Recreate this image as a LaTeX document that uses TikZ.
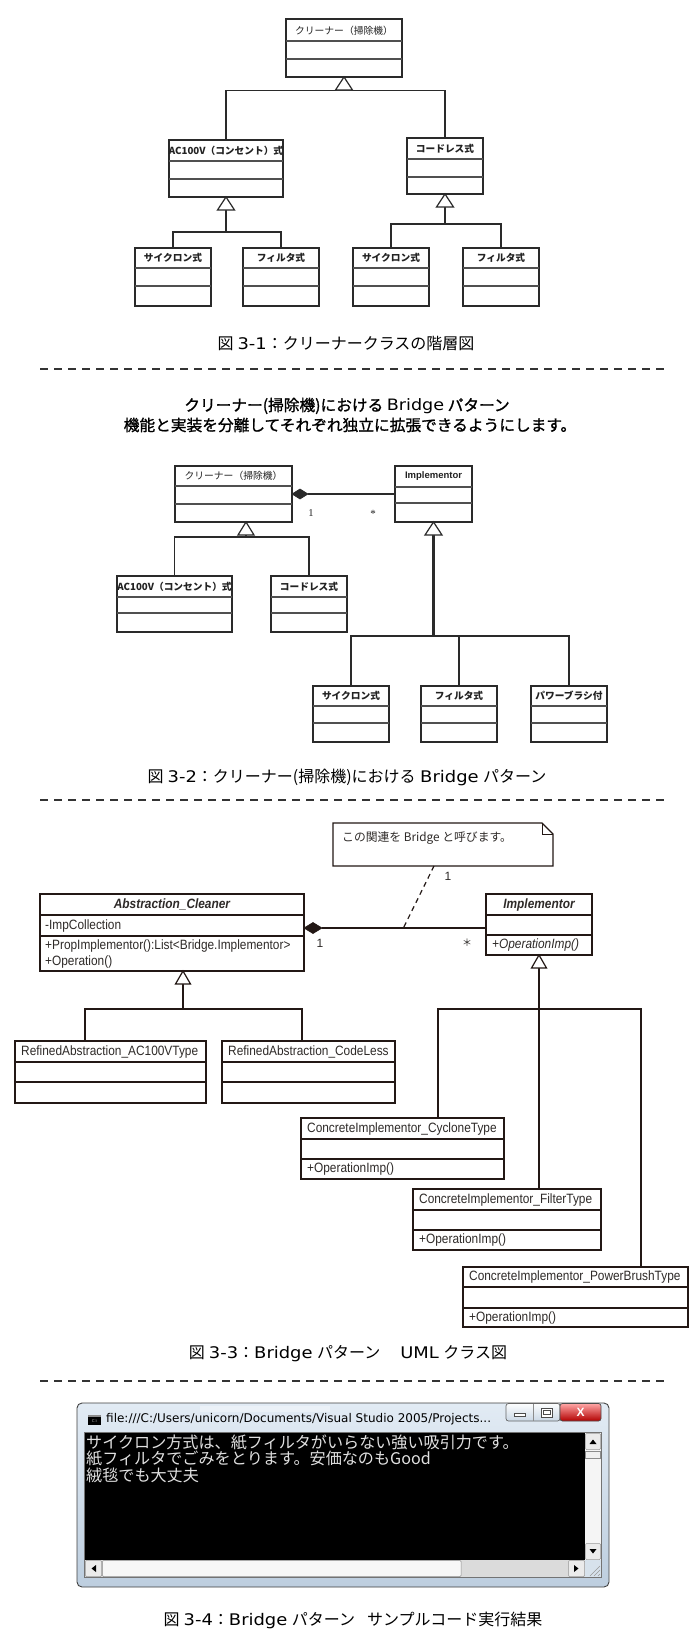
\documentclass[tikz,border=0pt]{standalone}
\usepackage{fontspec}
\setmainfont{Noto Sans CJK JP}
\newfontfamily\jpm[FakeBold=1.2]{Noto Sans CJK JP}
\newfontfamily\uml[FakeStretch=0.88]{Liberation Sans}
\newfontfamily\lsans{Liberation Sans}
\newfontfamily\lserif{Liberation Serif}
\newfontfamily\dvs{DejaVu Sans}
\newfontfamily\dvsw[FakeStretch=1.12]{DejaVu Sans}
\usetikzlibrary{calc}
\definecolor{linec}{HTML}{2A2A2A}
\definecolor{divc}{HTML}{505050}
\definecolor{umlc}{HTML}{231815}
\definecolor{umltxt}{HTML}{2E2A28}
\definecolor{txtc}{HTML}{222222}
\definecolor{sepc}{HTML}{333333}
\definecolor{frameA}{HTML}{E2EBF4}
\definecolor{frameB}{HTML}{BDCEDF}
\newcommand\fsz[1]{\fontsize{#1}{#1}\selectfont}
\newcommand\lat[1]{{\dvsw #1}}
\newcommand\klass[8]{%
  \node[#1, minimum width={#5-#3}, minimum height={#6-#4}] (#2) at (#3,#4) {};
  \draw[#1div] (#3,#7) -- (#5,#7) (#3,#8) -- (#5,#8);
}
\newcommand\gtri[3]{\draw[#1] (#2) -- ++(-#3,13) -- ++(2*#3,0) -- cycle;}
\begin{document}
\begin{tikzpicture}[x=1pt,y=-1pt,
  kb/.style={rectangle, draw=linec, line width=1.3pt, fill=white, inner sep=0pt, outer sep=0pt, anchor=north west},
  kbdiv/.style={draw=divc, line width=1.6pt},
  ub/.style={rectangle, draw=umlc, line width=1.3pt, fill=white, inner sep=0pt, outer sep=0pt, anchor=north west},
  ubdiv/.style={draw=umlc, line width=1.2pt},
  ln/.style={draw=linec, line width=1.3pt},
  uln/.style={draw=umlc, line width=1.3pt},
  gen/.style={draw=linec, line width=1.2pt, fill=white},
  ugen/.style={draw=umlc, line width=1.2pt, fill=white},
  jt/.style={inner sep=0pt, text=txtc, font=\fsz{9.8}},
  jb/.style={inner sep=0pt, text=txtc, font=\fsz{9.7}\bfseries},
  ut/.style={inner sep=0pt, text=umltxt, font=\uml\fsz{13.5}, anchor=west},
  figcap/.style={inner sep=0pt, text=black, font=\fsz{16}},
  sepl/.style={draw=sepc, line width=1.4pt, dash pattern=on 8pt off 6pt},
  multlab/.style={inner sep=0pt, text=umltxt, font=\lsans\fsz{12}},
  constext/.style={inner sep=0pt, text=white!88!black, font=\fsz{16.1}, anchor=west},
]
\useasboundingbox[fill=white] (0,0) rectangle (700,1641);

% ---------------- Figure 3-1 ----------------
\klass{kb}{A0}{286}{19}{402}{77}{41}{59}
\node[jt] (A0t) at (344,30.5) {クリーナー（掃除機）};
\klass{kb}{A1}{169}{140}{283}{197}{161}{179}
\node[jb] (A1t) at (226,150.5) {AC100V（コンセント）式};
\klass{kb}{A2}{407}{138}{483}{194}{159}{177}
\node[jb] (A2t) at (445,148.5) {コードレス式};
\klass{kb}{A3}{135}{248}{211}{306}{268}{286}
\node[jb] (A3t) at (173,258) {サイクロン式};
\klass{kb}{A4}{243}{248}{319}{306}{268}{286}
\node[jb] (A4t) at (281,258) {フィルタ式};
\klass{kb}{A5}{353}{248}{429}{306}{268}{286}
\node[jb] (A5t) at (391,258) {サイクロン式};
\klass{kb}{A6}{463}{248}{539}{306}{268}{286}
\node[jb] (A6t) at (501,258) {フィルタ式};

\coordinate (bus0) at (344,90.5);
\draw[ln] (A1.north) |- (bus0) -| (A2.north);
\gtri{gen}{A0.south}{8.5}
\coordinate (bus1) at (226,232);
\draw[ln] (A3.north) |- (bus1) -| (A4.north);
\draw[ln] (bus1) -- ([yshift=-13pt]A1.south);
\gtri{gen}{A1.south}{8.5}
\coordinate (bus2) at (445,224);
\draw[ln] (A5.north) |- (bus2) -| (A6.north);
\draw[ln] (bus2) -- ([yshift=-13pt]A2.south);
\gtri{gen}{A2.south}{8.5}

\node[figcap] (cap1) at (346,344) {図\hspace{4pt}\lat{3-1}：クリーナークラスの階層図};
\coordinate (s1a) at (40,369); \coordinate (s1b) at (668,369);
\draw[sepl] (s1a) -- (s1b);

% ---------------- Figure 3-2 ----------------
\node[inner sep=0pt, font=\jpm\fsz{15.7}] (tt1) at (347,406) {クリーナー(掃除機)における \lat{Bridge} パターン};
\node[inner sep=0pt, font=\jpm\fsz{15.7}] (tt2) at (350,425) {機能と実装を分離してそれぞれ独立に拡張できるようにします。};

\klass{kb}{K1}{175}{466}{292}{522}{486}{504}
\node[jt] (K1t) at (233.5,476) {クリーナー（掃除機）};
\klass{kb}{K2}{395}{466}{472}{522}{487}{503}
\node[inner sep=0pt, text=txtc, font=\lsans\bfseries\fsz{9.5}] (K2t) at (433.5,476.5) {Implementor};
\draw[fill=linec, draw=linec, line width=0.6pt] (K1.east) -- ++(8,-5) -- ++(8,5) -- ++(-8,5) -- cycle;
\draw[ln, line width=1.1pt] ([xshift=16pt]K1.east) -- (K1.east -| K2.west);
\node[inner sep=0pt, text=txtc, font=\lserif\fsz{10.5}] (m21) at (311,513) {1};
\node[inner sep=0pt, text=txtc, font=\lserif\fsz{11}] (m22) at (373,514) {*};

\klass{kb}{K3}{117}{576}{232}{632}{597}{613}
\node[jb] (K3t) at (174.5,586.5) {AC100V（コンセント）式};
\klass{kb}{K4}{271}{576}{347}{632}{597}{613}
\node[jb] (K4t) at (309,586.5) {コードレス式};
\coordinate (bus3) at (246,537);
\draw[ln] (K3.north) |- (bus3) -| (K4.north);
\draw[ln] (bus3) -- ([xshift=71pt,yshift=-13pt]K1.south west);
\gtri{gen}{[xshift=71pt]K1.south west}{8}

\klass{kb}{K5}{313}{686}{389}{742}{706}{723}
\node[jb] (K5t) at (351,696) {サイクロン式};
\klass{kb}{K6}{421}{686}{497}{742}{706}{723}
\node[jb] (K6t) at (459,696) {フィルタ式};
\klass{kb}{K7}{531}{686}{607}{742}{706}{723}
\node[jb] (K7t) at (569,696) {パワーブラシ付};
\coordinate (bus4) at (433.5,636);
\draw[ln, line width=1.1pt] (K5.north) |- (bus4) -| (K7.north);
\draw[ln, line width=1.1pt] (K6.north) -- (K6.north |- bus4);
\draw[ln, line width=2.2pt] (bus4) -- ([yshift=-13pt]K2.south);
\gtri{gen}{K2.south}{8.5}

\node[figcap] (cap2) at (347,777) {図\hspace{4pt}\lat{3-2}：クリーナー(掃除機)における\hspace{4.5pt}\lat{Bridge}\hspace{4.5pt}パターン};
\coordinate (s2a) at (40,800); \coordinate (s2b) at (668,800);
\draw[sepl] (s2a) -- (s2b);

% ---------------- Figure 3-3 ----------------
\node[inner sep=0pt, outer sep=0pt, minimum width=220pt, minimum height=43pt, anchor=north west] (NT) at (333,823) {};
\draw[uln, line width=1.2pt, fill=white] (NT.north west) -- ([xshift=-11pt]NT.north east) -- ([yshift=-11pt]NT.north east) -- (NT.south east) -- (NT.south west) -- cycle;
\draw[uln, line width=1pt] ([xshift=-11pt]NT.north east) -- ([xshift=-11pt,yshift=-11pt]NT.north east) -- ([yshift=-11pt]NT.north east);
\node[inner sep=0pt, anchor=west, text=umltxt, font=\fsz{11.8}] (NTt) at (342,838) {この関連を Bridge と呼びます。};

\klass{ub}{AB}{40}{894}{304}{971}{915}{936}
\node[ut, anchor=center, font=\uml\bfseries\itshape\fsz{13.5}] (ABt) at (172,904.5) {Abstraction\_Cleaner};
\node[ut] (ABa) at (45,925.5) {-ImpCollection};
\node[ut] (ABo1) at (45,945.5) {+PropImplementor():List<Bridge.Implementor>};
\node[ut] (ABo2) at (45,961.5) {+Operation()};

\klass{ub}{IM}{486}{894}{592}{955}{915}{935}
\node[ut, anchor=center, font=\uml\bfseries\itshape\fsz{13.5}] (IMt) at (539,904.5) {Implementor};
\node[ut, font=\uml\itshape\fsz{13.5}] (IMo) at (492,945) {+OperationImp()};

\coordinate (dA) at ([yshift=4.5pt]AB.east);
\draw[fill=umlc, draw=umlc, line width=0.6pt] (dA) -- ++(9,-5.5) -- ++(9,5.5) -- ++(-9,5.5) -- cycle;
\draw[uln] ([xshift=18pt]dA) -- (dA -| IM.west);
\draw[uln, line width=1.2pt, dash pattern=on 5pt off 4pt] ([xshift=101pt]NT.south west) -- ($(dA)!0.546!(dA -| IM.west)$);
\node[multlab] (m31) at (320,943) {1};
\node[inner sep=0pt, text=umltxt, font=\fsz{10}] (m32) at (467,943) {＊};
\node[multlab] (m33) at (448,876) {1};

\klass{ub}{RA}{15}{1041}{206}{1103}{1062}{1082}
\node[ut] (RAt) at (21,1051.5) {RefinedAbstraction\_AC100VType};
\klass{ub}{RC}{222}{1041}{395}{1103}{1062}{1082}
\node[ut] (RCt) at (228,1051.5) {RefinedAbstraction\_CodeLess};
\coordinate (bus5) at (183,1009);
\draw[uln] ([xshift=70pt]RA.north west) |- (bus5) -| ([xshift=80pt]RC.north west);
\draw[uln] (bus5) -- ([xshift=143pt,yshift=-13pt]AB.south west);
\gtri{ugen}{[xshift=143pt]AB.south west}{7.5}

\klass{ub}{CY}{301}{1118}{504}{1179}{1139}{1159}
\node[ut] (CYt) at (307,1128.5) {ConcreteImplementor\_CycloneType};
\node[ut] (CYo) at (307,1169) {+OperationImp()};
\klass{ub}{FI}{413}{1189}{601}{1250}{1210}{1230}
\node[ut] (FIt) at (419,1199.5) {ConcreteImplementor\_FilterType};
\node[ut] (FIo) at (419,1240) {+OperationImp()};
\klass{ub}{PB}{463}{1267}{688}{1327}{1287}{1308}
\node[ut] (PBt) at (469,1277) {ConcreteImplementor\_PowerBrushType};
\node[ut] (PBo) at (469,1317.5) {+OperationImp()};
\coordinate (bus6) at (539,1009);
\draw[uln] ([xshift=137pt]CY.north west) |- (bus6) -| ([xshift=178pt]PB.north west);
\draw[uln] ([xshift=126pt]FI.north west) -- ([yshift=-13pt]IM.south);
\gtri{ugen}{IM.south}{7.5}

\node[figcap] (cap3) at (348,1354) {図\hspace{4pt}\lat{3-3}：\lat{Bridge}\hspace{4.5pt}パターン\hspace{20pt}\lat{UML}\hspace{4.5pt}クラス図};
\coordinate (s3a) at (40,1381); \coordinate (s3b) at (668,1381);
\draw[sepl] (s3a) -- (s3b);

% ---------------- Figure 3-4 (console window) ----------------
\draw[rounded corners=5pt, draw=black!75, line width=0.9pt, top color=frameA, bottom color=frameB] (77,1403) rectangle (609,1587);
\fill[white, opacity=0.35] (200,1406) rectangle (330,1412);
% icon
\fill[black] (88,1415) rectangle (101,1425);
\fill[black!45] (88,1415) rectangle (101,1417);
\node[inner sep=0pt, text=black!30, font=\lsans\fsz{4}] (ico) at (94.5,1421.5) {C:\textbackslash};
\node[inner sep=0pt, anchor=west, text=black, font=\dvs\fsz{12}] (wtitle) at (106,1419.5) {file:///C:/Users/unicorn/Documents/Visual Studio 2005/Projects...};
% caption buttons
\draw[draw=black!60, line width=0.7pt, top color=white!90!frameA, bottom color=frameB!80!white, rounded corners=2.5pt] (506,1403.5) rectangle (560,1421);
\draw[draw=black!45, line width=0.5pt] (533,1404) -- (533,1420.5);
\draw[draw=black!70, line width=0.6pt, fill=white] (514,1413) rectangle (525,1416);
\draw[draw=black!70, line width=0.6pt, fill=white] (541,1408) rectangle (552,1417);
\draw[draw=black!70, line width=0.6pt] (543,1410.5) rectangle (550,1414.5);
\draw[draw=black!70, line width=0.7pt, top color=red!35!white, bottom color=red!70!black, rounded corners=2.5pt] (560,1403.5) rectangle (601,1421);
\node[inner sep=0pt, text=white, font=\lsans\bfseries\fsz{12}] (xbtn) at (580.5,1412) {X};
% client area
\draw[draw=black!55, line width=0.6pt] (84.5,1432.5) rectangle (601.5,1577.5);
\fill[black] (85,1433) rectangle (585,1560);
% vertical scrollbar
\fill[black!4] (585,1433) rectangle (601,1560);
\draw[draw=black!40, fill=black!8, line width=0.5pt, rounded corners=1pt] (585.5,1433.5) rectangle (600.5,1449.5);
\fill[black] (589.5,1444) -- (596.5,1444) -- (593,1439.5) -- cycle;
\draw[draw=black!45, fill=black!6, line width=0.5pt] (585.5,1451.5) rectangle (600.5,1458);
\draw[draw=black!40, fill=black!8, line width=0.5pt, rounded corners=1pt] (585.5,1543.5) rectangle (600.5,1559.5);
\fill[black] (589.5,1549) -- (596.5,1549) -- (593,1553.5) -- cycle;
% horizontal scrollbar
\fill[black!14] (85,1560) rectangle (585,1577);
\draw[draw=black!40, fill=black!8, line width=0.5pt, rounded corners=1pt] (85.5,1560.5) rectangle (101.5,1576.5);
\fill[black] (96,1565) -- (96,1572) -- (91.5,1568.5) -- cycle;
\draw[draw=black!45, fill=black!3, line width=0.5pt, rounded corners=1pt] (102.5,1560.5) rectangle (461,1576.5);
\draw[draw=black!40, fill=black!8, line width=0.5pt, rounded corners=1pt] (568.5,1560.5) rectangle (584.5,1576.5);
\fill[black] (574,1565) -- (574,1572) -- (578.5,1568.5) -- cycle;
\fill[frameB!60!white] (585,1560) rectangle (601,1577);
\draw[black!40, line width=0.6pt] (590,1576) -- (600,1566) (594,1576) -- (600,1570) (598,1576) -- (600,1574);
% console text
\node[constext] (l1) at (86,1442) {サイクロン方式は、紙フィルタがいらない強い吸引力です。};
\node[constext] (l2) at (86,1459) {紙フィルタでごみをとります。安価なのもGood};
\node[constext] (l3) at (86,1476) {絨毯でも大丈夫};

\node[figcap] (cap4) at (353,1620) {図\hspace{4pt}\lat{3-4}：\lat{Bridge}\hspace{4.5pt}パターン\hspace{12pt}サンプルコード実行結果};
\end{tikzpicture}
\end{document}
